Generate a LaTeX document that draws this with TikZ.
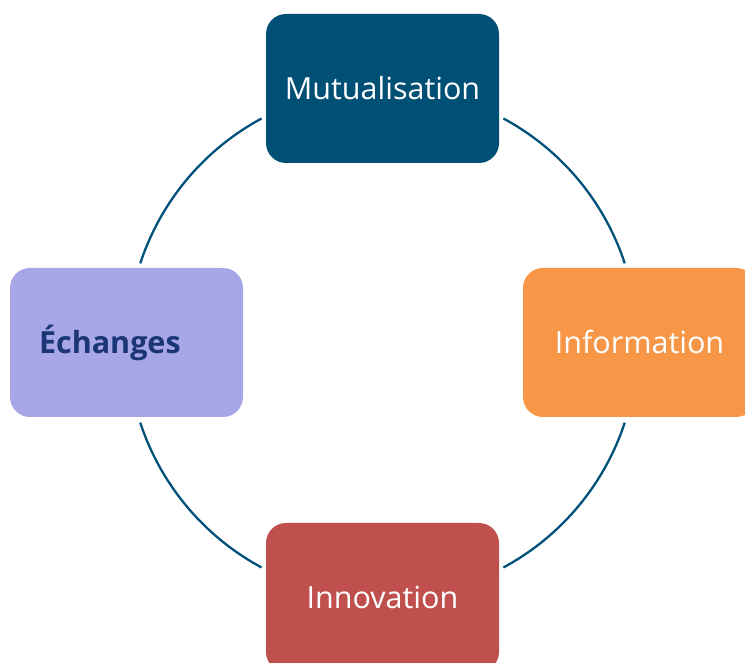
\documentclass[tikz,border=0pt]{standalone}
\usepackage{fontspec}
\setmainfont{Open Sans}
\definecolor{mutu}{HTML}{004F75}
\definecolor{info}{HTML}{F79646}
\definecolor{inno}{HTML}{C0504D}
\definecolor{echa}{HTML}{A7A6E6}
\definecolor{echatext}{HTML}{1B3677}
\definecolor{ring}{HTML}{00527A}
\tikzset{
  box/.style={rounded corners=20pt, minimum width=233pt, minimum height=149pt,
    inner sep=0pt, text height=23pt, text depth=0pt, font=\fontsize{30.5}{36}\selectfont,
    text=white},
  ringarc/.style={draw=ring, line width=2.3pt}
}
\begin{document}
\begin{tikzpicture}[x=1pt,y=1pt]
\useasboundingbox (0,0) rectangle (745,663);
\clip (0,0) rectangle (745,663);
\fill[white] (0,0) rectangle (745,663);
\coordinate (c) at (382.5,320);
\node[box, fill=mutu] (mutu) at (382.5,574.5) {Mutualisation};
\node[box, fill=info] (info) at (639.5,320.5) {Information};
\node[box, fill=inno] (inno) at (382.5,65.5) {Innovation};
\node[box, fill=echa, text=echatext, text width=175pt, align=left, inner xsep=29pt,
  font=\fontsize{30.5}{36}\selectfont\bfseries] (echa) at (126.5,320.5) {Échanges};
\draw[ringarc] ([shift={(118.3:255)}]c) arc[start angle=118.3, end angle=161.8, radius=255];
\draw[ringarc] ([shift={(61.7:255)}]c) arc[start angle=61.7, end angle=18.2, radius=255];
\draw[ringarc] ([shift={(-18.2:255)}]c) arc[start angle=-18.2, end angle=-61.7, radius=255];
\draw[ringarc] ([shift={(-118.3:255)}]c) arc[start angle=-118.3, end angle=-161.8, radius=255];
\end{tikzpicture}
\end{document}
